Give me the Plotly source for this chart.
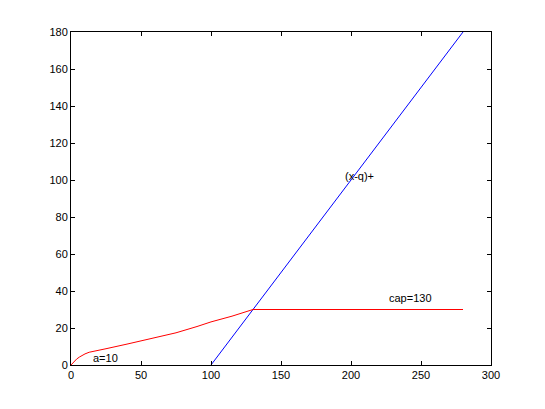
import plotly.graph_objects as go

# red curve (capped payoff)
cap_x = [0, 2, 4, 6, 8, 10, 13, 18, 25, 40, 50, 65, 75, 90, 100, 115, 130, 280]
cap_y = [0, 1.8, 3.2, 4.3, 5.3, 6.0, 6.9, 7.8, 8.8, 11.3, 13.0, 15.6, 17.4, 20.8, 23.3, 26.4, 30, 30]

# blue line (x-q)+
call_x = [100, 280]
call_y = [0, 180]

labels = ["(x-q)+", "cap=130", "a=10"]
label_x = [194, 226, 14]
label_y = [102, 36, 4]

fig = go.Figure()
fig.add_trace(go.Scatter(x=call_x, y=call_y, mode="lines",
                         line={"color": "#0000ff", "width": 1}))
fig.add_trace(go.Scatter(x=cap_x, y=cap_y, mode="lines",
                         line={"color": "#ff0000", "width": 1}))

for t, x, y in zip(labels, label_x, label_y):
    fig.add_annotation(x=x, y=y, text=t, showarrow=False, xanchor="left",
                       font={"size": 11, "color": "black"})

axis = dict(showgrid=False, zeroline=False, showline=True, linecolor="black",
            linewidth=1, mirror="ticks", ticks="inside", ticklen=4,
            tickcolor="black", tickfont={"size": 11, "color": "black"})
fig.update_xaxes(range=[0, 300], dtick=50, **axis)
fig.update_yaxes(range=[0, 180], dtick=20, **axis)

# page body adds an 8px offset, so margins are shifted accordingly
fig.update_layout(
    width=529, height=393,
    margin={"l": 63, "r": 46, "t": 24, "b": 36},
    plot_bgcolor="white", paper_bgcolor="white",
    showlegend=False,
    font={"family": "Liberation Sans, Arial", "size": 11},
)
fig.write_html("out.html")
